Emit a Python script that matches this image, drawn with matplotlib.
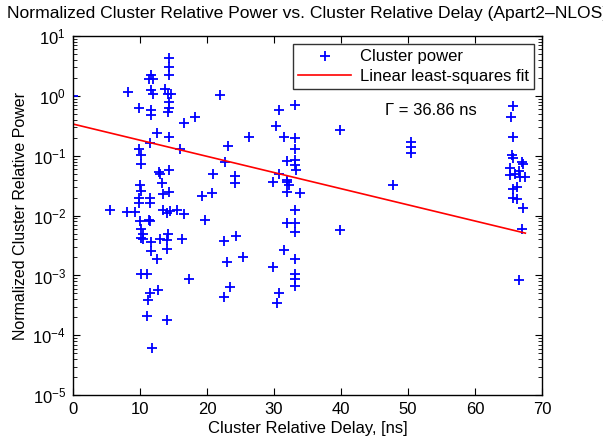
import numpy as np
import matplotlib
matplotlib.use("Agg")
import matplotlib.pyplot as plt
from matplotlib.ticker import LogLocator, NullFormatter, FixedLocator

plt.rcParams['font.family'] = ['Liberation Sans', 'DejaVu Sans']
plt.rcParams['mathtext.default'] = 'regular'

# Cluster delays (ns) and normalized relative powers
delay = [0.0, 8.2, 5.5, 8.0, 9.2, 9.8, 9.9,
         10.2, 10.1, 10.0, 10.1, 9.9, 9.8, 10.0, 10.2, 10.5, 10.2, 10.5, 10.2, 11.1,
         11.2, 11.5, 12.7, 11.0, 14.1, 11.8, 11.4, 11.5, 11.7, 11.7, 12.6, 11.5, 11.5,
         11.4, 11.7, 12.0, 11.6, 12.0, 11.7, 11.7, 11.5, 12.5, 12.9, 13.0, 13.3, 13.4,
         13.0, 13.5, 14.0, 14.5, 15.5, 16.5, 14.2, 14.0, 16.2, 14.1, 17.3,
         14.4, 14.4, 14.4, 13.7, 14.2, 14.7, 14.4, 14.4, 14.2, 14.4, 14.4, 14.4,
         16.6, 18.2, 16.0, 20.9, 20.7, 19.3, 19.7, 22.0, 22.7, 23.2, 26.2, 24.2, 24.2,
         22.5, 24.4, 23.0, 25.3, 23.5, 22.5,
         30.8, 33.1, 30.3, 31.5, 33.1, 33.1, 32.0, 33.1, 33.1, 33.3, 30.8, 29.9, 32.0,
         32.2, 31.9, 32.0, 33.9, 33.1, 32.0, 33.1, 33.1, 31.5, 29.9, 33.1, 33.1, 33.1,
         33.1, 30.7, 30.5,
         39.9, 39.9, 47.8, 50.4, 50.4, 50.4,
         65.7, 65.4, 65.7, 65.5, 65.7, 67.0, 67.2, 65.2, 66.5, 65.2, 66.0, 67.5, 66.7,
         66.2, 65.6, 65.6, 66.3, 67.2, 67.0, 66.6]
power = [1.0, 1.15, 0.0126, 0.0115, 0.0115, 0.132, 0.62,
         0.102, 0.074, 0.032, 0.026, 0.020, 0.0162, 0.0081, 0.0060, 0.0050, 0.0042, 0.0040, 0.00105, 0.00107,
         0.00039, 0.0005, 0.00058, 0.000214, 0.000182, 0.0000617, 0.0085, 0.0081, 0.0036, 0.0026, 0.00186, 0.020, 0.0162,
         1.91, 2.24, 1.91, 1.26, 1.10, 0.58, 0.48, 0.166, 0.24, 0.054, 0.050, 0.035, 0.0234,
         0.0040, 0.0123, 0.0112, 0.012, 0.0123, 0.0107, 0.0050, 0.0039, 0.0040, 0.0028, 0.00087,
         4.27, 3.09, 2.24, 1.33, 1.10, 1.10, 0.79, 0.62, 0.54, 0.21, 0.059, 0.025,
         0.35, 0.45, 0.132, 0.050, 0.024, 0.021, 0.0085, 1.02, 0.079, 0.145, 0.21, 0.046, 0.035,
         0.0038, 0.0046, 0.0017, 0.0020, 0.00065, 0.00044,
         0.58, 0.72, 0.32, 0.21, 0.20, 0.132, 0.081, 0.085, 0.069, 0.058, 0.049, 0.036, 0.040,
         0.032, 0.036, 0.025, 0.024, 0.0123, 0.0074, 0.0076, 0.0054, 0.0027, 0.00138, 0.00186, 0.00105, 0.00089,
         0.00066, 0.0005, 0.00035,
         0.275, 0.0058, 0.032, 0.17, 0.141, 0.112,
         0.68, 0.45, 0.21, 0.102, 0.093, 0.079, 0.074, 0.062, 0.056, 0.048, 0.050, 0.045, 0.044,
         0.030, 0.028, 0.020, 0.019, 0.0135, 0.0059, 0.00085]

# least-squares line end points
fit_delay = [0.0, 67.5]
fit_power = [0.34, 0.0051]

fig = plt.figure(figsize=(6.03, 4.41), dpi=100)
ax = fig.add_axes([0.121, 0.104, 0.778, 0.814])

ax.semilogy(delay, power, '+', color='blue', markersize=7.5, markeredgewidth=1.3,
            label='Cluster power')
ax.semilogy(fit_delay, fit_power, '-', color='red', linewidth=1.2,
            label='Linear least-squares fit')

ax.set_xlim(0, 70)
ax.set_ylim(1e-5, 1e1)
ax.xaxis.set_major_locator(FixedLocator(np.arange(0, 71, 10)))
ax.yaxis.set_major_locator(LogLocator(base=10, numticks=10))
ax.yaxis.set_minor_locator(LogLocator(base=10, subs=np.arange(2, 10), numticks=10))
ax.yaxis.set_minor_formatter(NullFormatter())
ax.tick_params(which='both', direction='in', top=True, right=True, labelsize=12)
ax.tick_params(which='major', length=5, pad=5)
ax.tick_params(which='minor', length=3)
for s in ax.spines.values():
    s.set_linewidth(1.0)

ax.text(46.6, 0.48, 'Γ = 36.86 ns', fontsize=12)

ax.set_title('Normalized Cluster Relative Power vs. Cluster Relative Delay (Apart2–NLOS)',
             fontsize=12.6, pad=13)
ax.set_xlabel('Cluster Relative Delay, [ns]', fontsize=12, labelpad=3)
ax.set_ylabel('Normalized Cluster Relative Power', fontsize=11.5, labelpad=3)

leg = ax.legend(loc='upper right', fontsize=12, frameon=True, fancybox=False,
                edgecolor='black', borderaxespad=0.5, handlelength=3.2,
                borderpad=0.3, labelspacing=0.25, handletextpad=0.5)
leg.get_frame().set_linewidth(1.0)

fig.savefig('out.png', dpi=100)
